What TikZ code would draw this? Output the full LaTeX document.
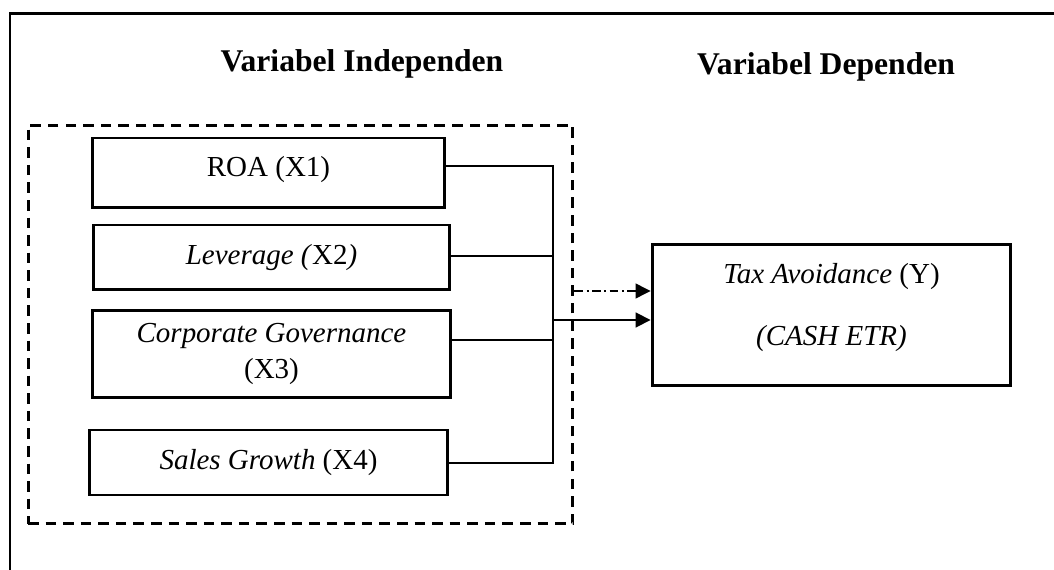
\documentclass[tikz,border=0pt]{standalone}
\usepackage{fontspec}
\setmainfont{Liberation Serif}
\usetikzlibrary{calc,positioning,arrows.meta,shapes}

\tikzset{
  varbox/.style={draw,line width=1.7pt,align=center,inner sep=0pt,
    font=\fontsize{16.5}{20}\selectfont},
  heading/.style={anchor=base,font=\fontsize{18}{22}\selectfont\bfseries},
  link/.style={line width=0.8pt},
  tip/.style={-{Triangle[length=8.5pt,width=8.5pt]}},
}

\begin{document}
\begin{tikzpicture}[x=0.02cm,y=-0.02cm]
\useasboundingbox (0,0) rectangle (1054,570);
\clip (0,0) rectangle (1054,570);

%frame
\draw[line width=1.7pt] (10,14) rectangle (1080,600);

%headings
\node[heading] (hIndep) at (362,72) {Variabel Independen};
\node[heading] (hDep) at (826,75) {Variabel Dependen};

%independent variables
\node[draw,line width=1.7pt,dash pattern=on 6pt off 4pt,
  minimum width=10.9cm,minimum height=7.98cm] (indep) at (300.5,324.5) {};
\node[varbox,minimum width=7.06cm,minimum height=1.4cm,text depth=8pt] (roa) at (268.5,173) {ROA (X1)};
\node[varbox,minimum width=7.14cm,minimum height=1.3cm] (lev) at (271.5,257.5) {\textit{Leverage (}X2\textit{)}};
\node[varbox,minimum width=7.18cm,minimum height=1.76cm] (corp) at (271.5,354) {\textit{Corporate Governance}\\(X3)};
\node[varbox,minimum width=7.18cm,minimum height=1.3cm] (sales) at (268.5,462.5) {\textit{Sales Growth} (X4)};

%dependent variable
\node[varbox,minimum width=7.18cm,minimum height=2.84cm,text depth=12pt] (tax) at (831.5,315)
  {\textit{Tax Avoidance} (Y)\\[15pt]\textit{(CASH ETR)}};

%connectors
\coordinate (bus1) at (553,166);
\coordinate (bus2) at (553,256);
\coordinate (bus3) at (553,340);
\coordinate (bus4) at (553,463);
\coordinate (busY) at (553,320);
\draw[link] (roa.east |- bus1) -- (bus1) -- (bus4) -- (sales.east |- bus4);
\draw[link] (lev.east |- bus2) -- (bus2);
\draw[link] (corp.east |- bus3) -- (bus3);
\draw[line width=1pt,tip] (busY) -- (busY -| tax.west);
\draw[line width=0.7pt,dash pattern=on 5pt off 2pt on 1pt off 2pt,tip]
  (indep.east |- 0,291) -- (tax.west |- 0,291);

\end{tikzpicture}
\end{document}
